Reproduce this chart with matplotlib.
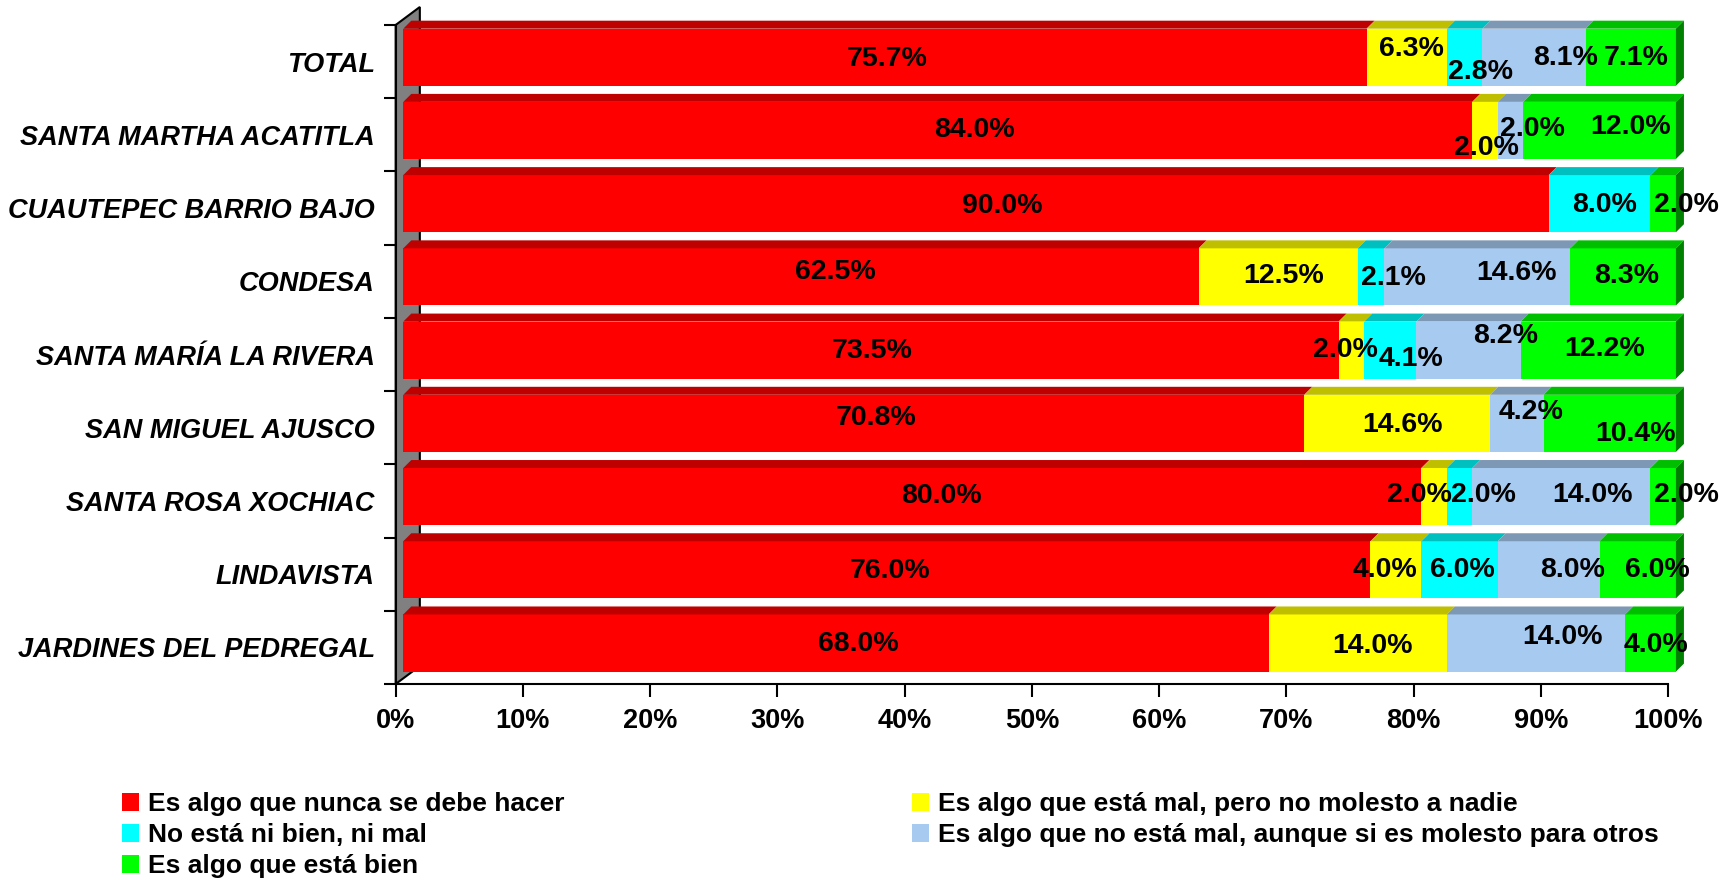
import numpy as np
import matplotlib
matplotlib.use("Agg")
import matplotlib.pyplot as plt
from matplotlib.patches import Polygon, Patch
from matplotlib.colors import to_rgb

plt.rcParams["font.family"] = ["Liberation Sans", "DejaVu Sans"]

# categories, bottom to top
categories = [
    "JARDINES DEL PEDREGAL",
    "LINDAVISTA",
    "SANTA ROSA XOCHIAC",
    "SAN MIGUEL AJUSCO",
    "SANTA MARÍA LA RIVERA",
    "CONDESA",
    "CUAUTEPEC BARRIO BAJO",
    "SANTA MARTHA ACATITLA",
    "TOTAL",
]

series_names = [
    "Es algo que nunca se debe hacer",
    "Es algo que está mal, pero no molesto a nadie",
    "No está ni bien, ni mal",
    "Es algo que no está mal, aunque si es molesto para otros",
    "Es algo que está bien",
]

nunca = [68.0, 76.0, 80.0, 70.8, 73.5, 62.5, 90.0, 84.0, 75.7]
mal_no_molesto = [14.0, 4.0, 2.0, 14.6, 2.0, 12.5, 0.0, 2.0, 6.3]
ni_bien_ni_mal = [0.0, 6.0, 2.0, 0.0, 4.1, 2.1, 8.0, 0.0, 2.8]
molesto_otros = [14.0, 8.0, 14.0, 4.2, 8.2, 14.6, 0.0, 2.0, 8.1]
esta_bien = [4.0, 6.0, 2.0, 10.4, 12.2, 8.3, 2.0, 12.0, 7.1]

colors = ["#FF0000", "#FFFF00", "#00FFFF", "#A6CAF0", "#00FF00"]

# hand-placed label nudges from the original (pixels: right, down), per row then series
label_nudge = {
    (0, 0): (22, -2), (0, 1): (15, 0), (0, 3): (27, -9), (0, 4): (6, -1),
    (1, 0): (3, -2), (1, 1): (-11, -3), (1, 2): (3, -3), (1, 3): (24, -3), (1, 4): (20, -3),
    (2, 0): (29, -4), (2, 1): (-15, -5), (2, 2): (24, -5), (2, 3): (31, -5), (2, 4): (23, -5),
    (3, 0): (22, -8), (3, 1): (5, -1), (3, 3): (14, -14), (3, 4): (26, 8),
    (4, 0): (1, -2), (4, 1): (-6, -3), (4, 2): (21, 6), (4, 3): (37, -17), (4, 4): (6, -4),
    (5, 0): (34, -8), (5, 1): (5, -4), (5, 2): (22, -2), (5, 3): (39, -7), (5, 4): (4, -4),
    (6, 0): (26, -1), (6, 2): (5, -2), (6, 4): (23, -2),
    (7, 0): (37, -3), (7, 1): (1, 15), (7, 3): (22, -4), (7, 4): (31, -6),
    (8, 0): (2, -1), (8, 1): (5, -11), (8, 2): (16, 12), (8, 3): (32, -2), (8, 4): (5, -2),
}

data = np.array([nunca, mal_no_molesto, ni_bien_ni_mal, molesto_otros, esta_bien])


def shade(c, f):
    return tuple(v * f for v in to_rgb(c))


fig = plt.figure(figsize=(17.27, 8.8), dpi=100)
fig.patch.set_facecolor("white")
ax = fig.add_axes([0.2291, 0.2227, 0.7369, 0.7489])
ax.set_xlim(0, 100)
ax.set_ylim(0, len(categories))

# 3d look (data units)
shift_x = 0.6
depth_x, depth_y = 0.63, 0.109
bar_h = 0.78
bar_c = 0.56
wall_x, wall_y = 1.9, 0.246
label_drop = 3  # px, text bbox sits a little high otherwise

n = len(categories)
wall = Polygon([(0, 0), (wall_x, wall_y), (wall_x, n + wall_y), (0, n)],
               closed=True, facecolor="#808080", edgecolor="black", lw=1.5,
               clip_on=False, zorder=1)
ax.add_patch(wall)

ypos = np.arange(n) + bar_c
lefts = np.zeros(n)
for s in range(len(series_names)):
    vals = data[s]
    ax.barh(ypos, vals, left=lefts + shift_x, height=bar_h, color=colors[s],
            edgecolor="none", clip_on=False, zorder=3, label=series_names[s])
    top_col = shade(colors[s], 0.75)
    for i in range(n):
        if vals[i] <= 0:
            continue
        l = lefts[i] + shift_x
        r = l + vals[i]
        yt = ypos[i] + bar_h / 2
        ax.add_patch(Polygon([(l, yt), (r, yt), (r + depth_x, yt + depth_y),
                              (l + depth_x, yt + depth_y)], closed=True,
                             facecolor=top_col, edgecolor="none",
                             clip_on=False, zorder=3))
    lefts = lefts + vals

# right end side faces
for i in range(n):
    last = max(s for s in range(len(series_names)) if data[s][i] > 0)
    r = lefts[i] + shift_x
    yb = ypos[i] - bar_h / 2
    yt = ypos[i] + bar_h / 2
    ax.add_patch(Polygon([(r, yb), (r, yt), (r + depth_x, yt + depth_y),
                          (r + depth_x, yb + depth_y)], closed=True,
                         facecolor=shade(colors[last], 0.5), edgecolor="none",
                         clip_on=False, zorder=3))

# value labels
starts = np.vstack([np.zeros(n), np.cumsum(data, axis=0)[:-1]])
for s in range(len(series_names)):
    for i in range(n):
        v = data[s][i]
        if v <= 0:
            continue
        cx = starts[s][i] + v / 2 + shift_x
        dx, dy = label_nudge.get((i, s), (0, 0))
        ax.annotate(f"{v:.1f}%", (cx, ypos[i]),
                    xytext=(dx * 0.72, -(dy + label_drop) * 0.72),
                    textcoords="offset points", ha="center", va="center",
                    fontsize=20.5, fontweight="bold", color="black",
                    annotation_clip=False, zorder=5)

# axes styling
for side in ["top", "right"]:
    ax.spines[side].set_visible(False)
ax.spines["left"].set_linewidth(1.5)
ax.spines["bottom"].set_linewidth(1.5)
ax.spines["left"].set_zorder(2)
ax.set_facecolor("none")

ax.set_xticks(np.arange(0, 101, 10))
ax.set_xticklabels([f"{t}%" for t in range(0, 101, 10)], fontsize=19.5, fontweight="bold")
ax.tick_params(axis="x", direction="out", length=9.4, width=1.5, pad=8)

ax.set_yticks(np.arange(0, n + 1))
ax.set_yticklabels([])
ax.tick_params(axis="y", which="major", direction="out", length=8.6, width=1.5)
ax.set_yticks(np.arange(n) + 0.5, minor=True)
ax.set_yticklabels(categories, minor=True, fontsize=19.5, fontweight="bold", style="italic")
ax.tick_params(axis="y", which="minor", length=0, pad=15)

# legend: two columns, filled column-wise
handles = [Patch(facecolor=c, edgecolor="none") for c in colors]
order = [0, 2, 4, 1, 3]
fig.legend([handles[k] for k in order], [series_names[k] for k in order],
           loc="upper left", bbox_to_anchor=(122 / 1727, 1 - 792 / 880),
           ncol=2, frameon=False,
           prop={"weight": "bold", "size": 19},
           handlelength=0.65, handleheight=0.65, handletextpad=0.35,
           labelspacing=0.27, columnspacing=13.15, borderpad=0, borderaxespad=0)

fig.savefig("out.png", dpi=100, facecolor="white")
